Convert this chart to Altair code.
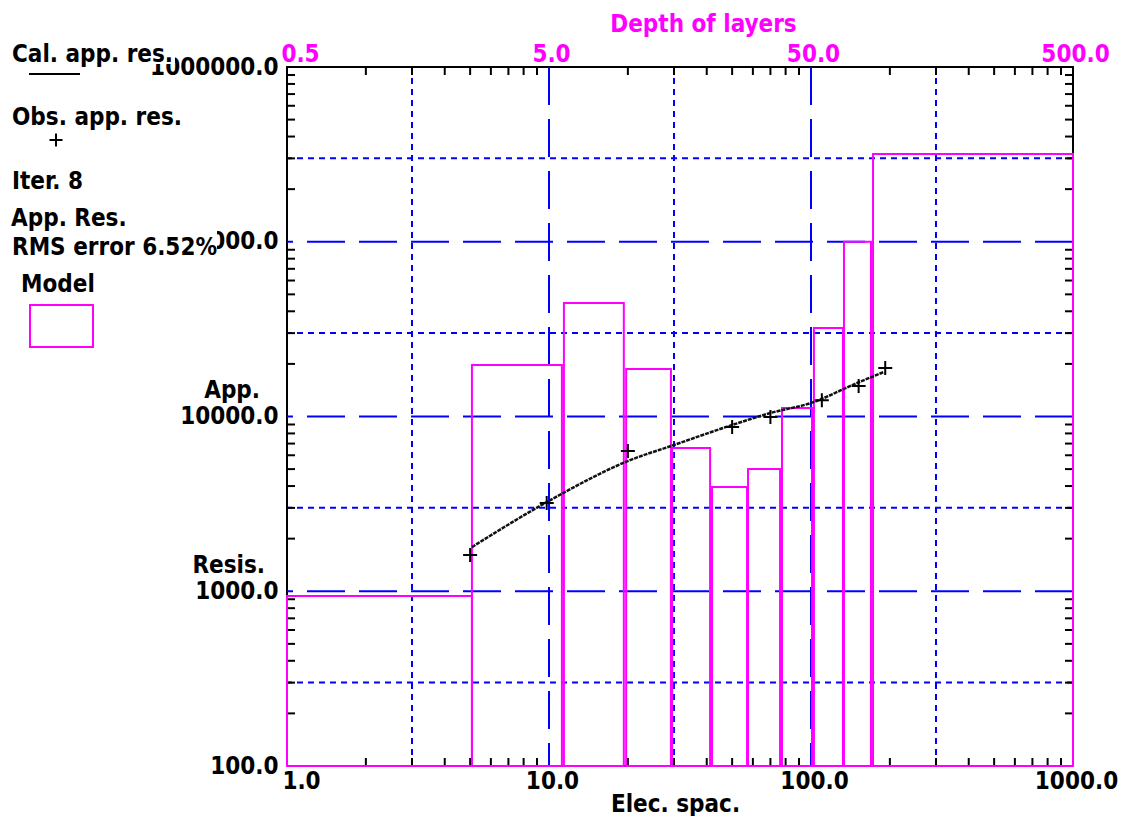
import altair as alt
import pandas as pd

# ---------------- data ----------------
# model layers: extent along the spacing axis and layer resistivity
layer_left = [1.0, 5.08, 11.4, 19.7, 29.5, 41.9, 57.5, 77.5, 102.6, 133.6, 172.5]
layer_right = [5.08, 11.2, 19.3, 29.2, 41.2, 57.0, 76.2, 100.9, 132.4, 169.4, 1000.0]
layer_res = [940, 19700, 44600, 18700, 6600, 3950, 5010, 11200, 32100, 100000, 318000]

# observed apparent resistivity (+)
obs_x = [5.0, 9.8, 20.0, 50.0, 70.0, 110.0, 152.0, 192.0]
obs_y = [1610, 3200, 6350, 8710, 9930, 12400, 14950, 18950]

# calculated apparent resistivity (line)
cal_x = [5.08, 10.0, 20.0, 30.0, 50.0, 70.0, 100.0, 150.0, 190.0]
cal_y = [1790, 3290, 5560, 6870, 8940, 10470, 11950, 15550, 18000]

# axis labels / grid / ticks
x_major = [1, 10, 100, 1000]
y_major = [100, 1000, 10000, 100000, 1000000]
x_grid_long = [10, 100]
x_grid_short = [3, 30, 300]
y_grid_long = [1000, 10000, 100000]
y_grid_short = [300, 3000, 30000, 300000]
x_minor = [2, 3, 4, 5, 6, 7, 8, 9, 20, 30, 40, 50, 60, 70, 80, 90,
           200, 300, 400, 500, 600, 700, 800, 900]
y_minor = [200, 300, 400, 500, 600, 700, 800, 900,
           2000, 3000, 4000, 5000, 6000, 7000, 8000, 9000,
           20000, 30000, 40000, 50000, 60000, 70000, 80000, 90000,
           200000, 300000, 400000, 500000, 600000, 700000, 800000, 900000]
y_side_labels = ["App.", "Resis."]
y_side_at = [10000, 1000]

# ---------------- styling ----------------
W, H = 786, 699
FONT = "'DejaVu Sans Condensed', 'DejaVu Sans'"
FS = 24
MAG = "#FF00FF"
BLUE = "#0000FF"

xs = alt.Scale(type="log", domain=[1, 1000], nice=False)
ys = alt.Scale(type="log", domain=[100, 1000000], nice=False)

one = pd.DataFrame({"k": [0]})

model_df = pd.DataFrame({"x0": layer_left, "x1": layer_right, "res": layer_res})
obs_df = pd.DataFrame({"x": obs_x, "y": obs_y})
cal_df = pd.DataFrame({"x": cal_x, "y": cal_y})

bottom_axis = alt.Axis(
    orient="bottom", values=x_major, format=".1f", title="Elec. spac.",
    labelBaseline="top", labelPadding=3, labelFlush=False, labelAlign="center",
    labelOffset={"condition": {"test": "datum.value == 1", "value": 14}, "value": 3},
    titleX=388, titleY=45, titleBaseline="alphabetic", titleAnchor="start",
    titleAlign="center",
)
top_axis = alt.Axis(
    orient="top", values=x_major, labelExpr="format(datum.value / 2, '.1f')",
    title="Depth of layers", labelColor=MAG, titleColor=MAG,
    labelBaseline="alphabetic", labelPadding=6, labelFlush=False, labelAlign="center",
    labelOffset={"condition": {"test": "datum.value == 1", "value": 13}, "value": 2},
    titleX=416, titleY=-36, titleBaseline="alphabetic", titleAnchor="start",
    titleAlign="center",
)
left_axis = alt.Axis(
    orient="left", values=y_major, format=".1f", title=None,
    labelAlign="right", labelBaseline="middle", labelPadding=9, labelFlush=False,
)

# ---------------- grid ----------------
gv_long = alt.Chart(pd.DataFrame({"x": x_grid_long})).mark_rule(
    color=BLUE, strokeWidth=2, strokeDash=[38, 14]
).encode(x=alt.X("x:Q", scale=xs, axis=None))
gv_short = alt.Chart(pd.DataFrame({"x": x_grid_short})).mark_rule(
    color=BLUE, strokeWidth=2, strokeDash=[6, 5]
).encode(x=alt.X("x:Q", scale=xs, axis=None))
gh_long = alt.Chart(pd.DataFrame({"y": y_grid_long})).mark_rule(
    color=BLUE, strokeWidth=2, strokeDash=[38, 14]
).encode(y=alt.Y("y:Q", scale=ys, axis=None))
gh_short = alt.Chart(pd.DataFrame({"y": y_grid_short})).mark_rule(
    color=BLUE, strokeWidth=2, strokeDash=[6, 5]
).encode(y=alt.Y("y:Q", scale=ys, axis=None))

# ---------------- inward minor ticks ----------------
xt_df = pd.DataFrame({"t": x_minor})
yt_df = pd.DataFrame({"t": y_minor})
tick_top = alt.Chart(xt_df).mark_rule(color="black", strokeWidth=2).encode(
    x=alt.X("t:Q", scale=xs, axis=top_axis), y=alt.value(0), y2=alt.value(8))
tick_bot = alt.Chart(xt_df).mark_rule(color="black", strokeWidth=2).encode(
    x=alt.X("t:Q", scale=xs, axis=None), y=alt.value(H - 8), y2=alt.value(H))
tick_left = alt.Chart(yt_df).mark_rule(color="black", strokeWidth=2).encode(
    y=alt.Y("t:Q", scale=ys, axis=None), x=alt.value(0), x2=alt.value(8))
tick_right = alt.Chart(yt_df).mark_rule(color="black", strokeWidth=2).encode(
    y=alt.Y("t:Q", scale=ys, axis=None), x=alt.value(W - 8), x2=alt.value(W))

# ---------------- model boxes ----------------
model = alt.Chart(model_df).mark_rect(
    fillOpacity=0, stroke=MAG, strokeWidth=2
).encode(
    x=alt.X("x0:Q", scale=xs, axis=bottom_axis),
    x2="x1:Q",
    y=alt.Y("res:Q", scale=ys, axis=left_axis),
    y2=alt.datum(100),
)

# ---------------- calculated curve & observed points ----------------
cal = alt.Chart(cal_df).mark_line(
    color="#111111", strokeWidth=2.5, strokeDash=[4, 1], interpolate="monotone"
).encode(x=alt.X("x:Q", scale=xs, axis=None), y=alt.Y("y:Q", scale=ys, axis=None))

PLUS = "M-1,0L1,0M0,-1L0,1"
obs = alt.Chart(obs_df).mark_point(
    shape=PLUS, size=196, filled=False, stroke="black", strokeWidth=2, opacity=1
).encode(x=alt.X("x:Q", scale=xs, axis=None), y=alt.Y("y:Q", scale=ys, axis=None))

# ---------------- y-axis side words ----------------
side_df = pd.DataFrame({"lab": y_side_labels, "y": y_side_at})
side_app = alt.Chart(side_df.iloc[[0]]).mark_text(
    align="right", baseline="alphabetic", dy=-19, font=FONT, fontSize=FS,
    fontWeight="bold", color="black"
).encode(y=alt.Y("y:Q", scale=ys, axis=None), x=alt.value(-27), text="lab:N")
side_res = alt.Chart(side_df.iloc[[1]]).mark_text(
    align="right", baseline="alphabetic", dy=-18, font=FONT, fontSize=FS,
    fontWeight="bold", color="black"
).encode(y=alt.Y("y:Q", scale=ys, axis=None), x=alt.value(-22), text="lab:N")


# ---------------- legend block on the left ----------------
def box(x1, x2, y1, y2, **kw):
    return alt.Chart(one).mark_rect(**kw).encode(
        x=alt.value(x1), x2=alt.value(x2), y=alt.value(y1), y2=alt.value(y2))


def txt(s, x, y):
    return alt.Chart(one).mark_text(
        text=s, align="left", baseline="alphabetic", font=FONT, fontSize=FS,
        fontWeight="bold", color="black"
    ).encode(x=alt.value(x), y=alt.value(y))


legend = [
    # opaque backgrounds of the legend texts (they hide parts of the y labels)
    box(-279, -112, -31, -3, fill="white"),
    box(-279, -70, 161, 194, fill="white"),
    txt("Cal. app. res.", -275, -5),
    alt.Chart(one).mark_rule(color="black", strokeWidth=2).encode(
        x=alt.value(-258), x2=alt.value(-207), y=alt.value(7)),
    txt("Obs. app. res.", -275, 58),
    alt.Chart(one).mark_point(
        shape=PLUS, size=169, filled=False, stroke="black", strokeWidth=2, opacity=1
    ).encode(x=alt.value(-231), y=alt.value(73)),
    txt("Iter. 8", -275, 122),
    txt("App. Res.", -276, 159),
    txt("RMS error 6.52%", -275, 188),
    txt("Model", -266, 225),
    box(-257, -194, 238, 280, fillOpacity=0, stroke=MAG, strokeWidth=2),
]

chart = alt.layer(
    gv_long, gv_short, gh_long, gh_short,
    tick_top, tick_bot, tick_left, tick_right,
    model, cal, obs, side_app, side_res, *legend
).resolve_axis(x="independent", y="independent").properties(
    width=W, height=H,
    autosize=alt.AutoSizeParams(type="none"),
    padding={"left": 279, "top": 59, "right": 45, "bottom": 50},
    background="white",
).configure_view(
    stroke="black", strokeWidth=2
).configure_axis(
    grid=False, domain=False, ticks=False, tickSize=0,
    labelFont=FONT, labelFontSize=FS, labelFontWeight="bold", labelColor="black",
    titleFont=FONT, titleFontSize=FS, titleFontWeight="bold", titleColor="black",
)

chart.save("out.html", embed_options={"renderer": "svg", "actions": False})
